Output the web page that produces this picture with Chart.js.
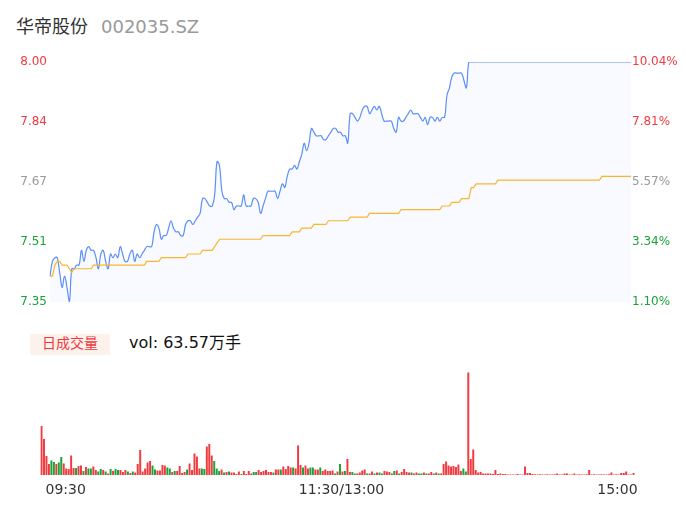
<!DOCTYPE html>
<html>
<head>
<meta charset="utf-8">
<script src="https://cdn.jsdelivr.net/npm/chart.js@4.4.0/dist/chart.umd.min.js"></script>
<style>
  body { margin: 0; width: 686px; height: 524px; background: #fff; position: relative; overflow: hidden;
         font-family: "DejaVu Sans", "Noto Sans CJK SC", sans-serif; }
  #title { position: absolute; left: 16px; top: 16px; line-height: 18px; font-size: 18px; color: #333;
           font-family: "Noto Sans CJK SC", sans-serif; white-space: nowrap; }
  #title .code { color: #999; margin-left: 13px; font-family: "DejaVu Sans", sans-serif; }
  #volTag { position: absolute; left: 30px; top: 334px; width: 80px; height: 21px; background: #fdf1ec;
            color: #f0373c; font-size: 14px; line-height: 17px; text-align: center;
            font-family: "Noto Sans CJK SC", sans-serif; }
  #volText { position: absolute; left: 129px; top: 333px; font-size: 16px; line-height: 19px; color: #111; }
  canvas { position: absolute; left: 0; }
  #priceChart { top: 40px; }
  #volChart { top: 355px; }
</style>
</head>
<body>
<div id="title">华帝股份<span class="code">002035.SZ</span></div>
<div id="volTag">日成交量</div>
<div id="volText">vol: 63.57万手</div>
<canvas id="priceChart" width="686" height="280"></canvas>
<canvas id="volChart" width="686" height="169"></canvas>

<script>
/* ===============================
   DATA
   =============================== */

const preClose = 7.27;

// one point per trading minute, 09:30 .. 15:00 (241 points)
const prices = [
  7.42, 7.46, 7.47, 7.47, 7.43, 7.39, 7.42, 7.39, 7.35, 7.44,
  7.44, 7.45, 7.45, 7.49, 7.46, 7.49, 7.50, 7.49, 7.49, 7.47,
  7.44, 7.48, 7.49, 7.46, 7.44, 7.48, 7.47, 7.48, 7.47, 7.50,
  7.48, 7.46, 7.46, 7.48, 7.49, 7.46, 7.48, 7.47, 7.48, 7.49,
  7.50, 7.50, 7.50, 7.54, 7.56, 7.55, 7.52, 7.53, 7.53, 7.55,
  7.57, 7.55, 7.54, 7.54, 7.53, 7.53, 7.56, 7.57, 7.57, 7.56,
  7.57, 7.58, 7.59, 7.63, 7.63, 7.62, 7.61, 7.61, 7.64, 7.73,
  7.72, 7.65, 7.63, 7.63, 7.62, 7.62, 7.60, 7.61, 7.61, 7.61,
  7.64, 7.61, 7.61, 7.61, 7.63, 7.63, 7.62, 7.59, 7.61, 7.63,
  7.65, 7.65, 7.65, 7.65, 7.63, 7.65, 7.67, 7.66, 7.69, 7.71,
  7.71, 7.72, 7.71, 7.73, 7.75, 7.78, 7.76, 7.78, 7.82, 7.81,
  7.80, 7.80, 7.80, 7.79, 7.79, 7.80, 7.81, 7.82, 7.82, 7.81,
  7.81, 7.80, 7.80, 7.78, 7.86, 7.86, 7.85, 7.84, 7.85, 7.87,
  7.88, 7.88, 7.86, 7.87, 7.88, 7.87, 7.88, 7.86, 7.84, 7.84,
  7.84, 7.84, 7.82, 7.81, 7.85, 7.84, 7.84, 7.85, 7.86, 7.87,
  7.86, 7.86, 7.86, 7.85, 7.84, 7.85, 7.83, 7.85, 7.85, 7.84,
  7.85, 7.84, 7.85, 7.85, 7.91, 7.93, 7.96, 7.97, 7.97, 7.97,
  7.97, 7.95, 7.93, 8.00, 8.00, 8.00, 8.00, 8.00, 8.00, 8.00,
  8.00, 8.00, 8.00, 8.00, 8.00, 8.00, 8.00, 8.00, 8.00, 8.00,
  8.00, 8.00, 8.00, 8.00, 8.00, 8.00, 8.00, 8.00, 8.00, 8.00,
  8.00, 8.00, 8.00, 8.00, 8.00, 8.00, 8.00, 8.00, 8.00, 8.00,
  8.00, 8.00, 8.00, 8.00, 8.00, 8.00, 8.00, 8.00, 8.00, 8.00,
  8.00, 8.00, 8.00, 8.00, 8.00, 8.00, 8.00, 8.00, 8.00, 8.00,
  8.00, 8.00, 8.00, 8.00, 8.00, 8.00, 8.00, 8.00, 8.00, 8.00,
  8.00
];

const avgPrices = [
  7.42, 7.42, 7.45, 7.46, 7.46, 7.45, 7.45, 7.45, 7.44, 7.43,
  7.44, 7.44, 7.44, 7.44, 7.44, 7.44, 7.44, 7.44, 7.45, 7.45,
  7.45, 7.45, 7.45, 7.45, 7.45, 7.45, 7.45, 7.45, 7.45, 7.45,
  7.45, 7.45, 7.45, 7.45, 7.45, 7.45, 7.45, 7.45, 7.45, 7.45,
  7.46, 7.46, 7.46, 7.46, 7.46, 7.46, 7.47, 7.47, 7.47, 7.47,
  7.47, 7.47, 7.47, 7.47, 7.47, 7.47, 7.47, 7.48, 7.48, 7.48,
  7.48, 7.48, 7.48, 7.49, 7.49, 7.49, 7.49, 7.49, 7.50, 7.51,
  7.52, 7.52, 7.52, 7.52, 7.52, 7.52, 7.52, 7.52, 7.52, 7.52,
  7.52, 7.52, 7.52, 7.52, 7.52, 7.52, 7.52, 7.52, 7.53, 7.53,
  7.53, 7.53, 7.53, 7.53, 7.53, 7.53, 7.53, 7.53, 7.53, 7.53,
  7.54, 7.54, 7.54, 7.54, 7.55, 7.55, 7.55, 7.55, 7.55, 7.56,
  7.56, 7.56, 7.56, 7.56, 7.56, 7.57, 7.57, 7.57, 7.57, 7.57,
  7.57, 7.57, 7.57, 7.57, 7.58, 7.58, 7.58, 7.58, 7.58, 7.58,
  7.58, 7.58, 7.59, 7.59, 7.59, 7.59, 7.59, 7.59, 7.59, 7.59,
  7.59, 7.59, 7.59, 7.59, 7.59, 7.60, 7.60, 7.60, 7.60, 7.60,
  7.60, 7.60, 7.60, 7.60, 7.60, 7.60, 7.60, 7.60, 7.60, 7.60,
  7.60, 7.60, 7.61, 7.61, 7.61, 7.61, 7.62, 7.62, 7.62, 7.62,
  7.63, 7.63, 7.63, 7.63, 7.66, 7.66, 7.67, 7.67, 7.67, 7.67,
  7.67, 7.67, 7.67, 7.67, 7.67, 7.68, 7.68, 7.68, 7.68, 7.68,
  7.68, 7.68, 7.68, 7.68, 7.68, 7.68, 7.68, 7.68, 7.68, 7.68,
  7.68, 7.68, 7.68, 7.68, 7.68, 7.68, 7.68, 7.68, 7.68, 7.68,
  7.68, 7.68, 7.68, 7.68, 7.68, 7.68, 7.68, 7.68, 7.68, 7.68,
  7.68, 7.68, 7.68, 7.68, 7.68, 7.68, 7.68, 7.68, 7.69, 7.69,
  7.69, 7.69, 7.69, 7.69, 7.69, 7.69, 7.69, 7.69, 7.69, 7.69,
  7.69
];

// volume per minute (手)
const volumes = [
  24500, 18000, 9500, 5500, 7300, 6500, 5500, 6300, 9000, 5800,
  3200, 3000, 9800, 3500, 3500, 4500, 4800, 2000, 4000, 3300,
  3300, 4300, 2500, 1700, 3000, 2500, 1800, 800, 3000, 2000,
  3000, 2500, 2500, 1500, 2500, 1800, 1000, 1800, 1200, 5500,
  12500, 1700, 3300, 6300, 7000, 4800, 2800, 2200, 2200, 5000,
  4700, 3800, 3200, 1500, 2000, 2000, 4500, 1000, 1500, 2800,
  5700, 2500, 10800, 9300, 3200, 3200, 3000, 14200, 15500, 9800,
  7000, 3200, 2000, 2700, 1300, 1500, 1800, 1300, 1300, 500,
  1800, 500, 2000, 500, 2000, 800, 1500, 1500, 2500, 1500,
  2000, 2500, 1500, 1500, 1200, 2700, 2700, 2700, 4200, 3000,
  4500, 3700, 3800, 3200, 14800, 5000, 3700, 4800, 3200, 3800,
  3800, 2800, 2800, 3700, 2000, 2700, 2000, 2000, 2200, 800,
  1700, 5500, 1800, 2000, 8000, 1500, 1500, 800, 800, 1200,
  2200, 2800, 800, 800, 1800, 800, 1300, 1300, 800, 2000,
  1700, 1500, 800, 2000, 2300, 800, 1500, 3000, 1500, 1300,
  1300, 800, 1300, 800, 800, 1300, 800, 800, 1500, 800,
  1300, 800, 800, 5500, 6700, 4800, 4200, 4500, 4000, 5300,
  2000, 3300, 1800, 51200, 8000, 12800, 2500, 1200, 1500, 700,
  700, 700, 700, 500, 2500, 500, 700, 500, 500, 300,
  300, 300, 300, 500, 300, 300, 4200, 1000, 1000, 500,
  400, 300, 400, 300, 300, 400, 300, 300, 400, 800,
  300, 300, 800, 800, 300, 300, 800, 300, 400, 300,
  300, 400, 2500, 300, 400, 300, 300, 400, 300, 300,
  400, 1300, 300, 400, 300, 1000, 1000, 1800, 300, 300,
  1000
];

const leftTickLabels = ["7.35", "7.51", "7.67", "7.84", "8.00"];
const rightTickLabels = ["1.10%", "3.34%", "5.57%", "7.81%", "10.04%"];
const timeTickLabels = ["09:30", "11:30/13:00", "15:00"];
const timeTickIndex = [0, 120, 240];

const priceMin = 7.35;
const priceMax = 8.00;

/* ------------------------------
   CATEGORIES (trading minutes)
--------------------------------*/
function fmtMinute(m){
  return String(Math.floor(m / 60)).padStart(2, "0") + ":" + String(m % 60).padStart(2, "0");
}
const minutes = [];
for (let m = 570; m <= 690; m++) minutes.push(fmtMinute(m));
for (let m = 781; m <= 900; m++) minutes.push(fmtMinute(m));

const RED = "#f23a3f";
const GREEN = "#1aa33a";
const GRAY = "#999999";
const tickColors = [GREEN, GREEN, GRAY, RED, RED];

Chart.defaults.font.family = "'DejaVu Sans', 'Noto Sans CJK SC', sans-serif";

// evenly spaced ticks, labels come from the arrays above
function spreadTicks(scale){
  const n = leftTickLabels.length - 1;
  scale.ticks = leftTickLabels.map((_, k) => ({ value: priceMin + k * (priceMax - priceMin) / n }));
}

/* ------------------------------
   PRICE CHART
--------------------------------*/
new Chart(document.getElementById("priceChart"), {
  type: "line",
  data: {
    labels: minutes,
    datasets: [
      {
        data: avgPrices,
        borderColor: "#f9b62c",
        borderWidth: 1.2,
        pointRadius: 0,
        fill: false,
        yAxisID: "y"
      },
      {
        data: prices,
        borderColor: "#5b8ff9",
        borderWidth: 1.2,
        pointRadius: 0,
        tension: 0.4,
        fill: "start",
        backgroundColor: "rgba(91,143,249,0.045)",
        yAxisID: "y"
      }
    ]
  },
  options: {
    responsive: false,
    animation: false,
    devicePixelRatio: 1,
    layout: { padding: { top: 22, bottom: 18, left: 0, right: 0 } },
    plugins: { legend: { display: false }, tooltip: { enabled: false } },
    scales: {
      x: { display: false },
      y: {
        position: "left",
        min: priceMin,
        max: priceMax,
        grid: { display: false, drawTicks: false },
        border: { display: false },
        afterBuildTicks: spreadTicks,
        afterFit: s => { s.width = 50; },
        ticks: {
          padding: 3,
          font: { size: 12 },
          color: ctx => tickColors[ctx.index],
          callback: (v, i) => leftTickLabels[i]
        }
      },
      y2: {
        position: "right",
        min: priceMin,
        max: priceMax,
        grid: { display: false, drawTicks: false },
        border: { display: false },
        afterBuildTicks: spreadTicks,
        afterFit: s => { s.width = 55; },
        ticks: {
          padding: 1,
          font: { size: 12 },
          color: ctx => tickColors[ctx.index],
          callback: (v, i) => rightTickLabels[i]
        }
      }
    }
  }
});

/* ------------------------------
   VOLUME CHART
--------------------------------*/
new Chart(document.getElementById("volChart"), {
  type: "bar",
  data: {
    labels: minutes,
    datasets: [{
      data: volumes,
      barPercentage: 0.8,
      categoryPercentage: 1,
      backgroundColor: ctx => {
        const i = ctx.dataIndex;
        const prev = i === 0 ? preClose : prices[i - 1];
        return prices[i] >= prev ? RED : GREEN;
      }
    }]
  },
  options: {
    responsive: false,
    animation: false,
    devicePixelRatio: 1,
    layout: { padding: { top: 8, bottom: 0, left: 40.3, right: 51.2 } },
    plugins: { legend: { display: false }, tooltip: { enabled: false } },
    scales: {
      x: {
        grid: { display: false, drawTicks: false },
        border: { display: false },
        afterFit: s => { s.height = 49; },
        ticks: {
          autoSkip: false,
          maxRotation: 0,
          align: "inner",
          labelOffset: 4,
          padding: 7,
          color: "#333",
          font: { size: 14 },
          callback: (v, i) => {
            const k = timeTickIndex.indexOf(i);
            return k === -1 ? "" : timeTickLabels[k];
          }
        }
      },
      y: { display: false, min: 0, max: 56000 }
    }
  }
});
</script>
</body>
</html>
